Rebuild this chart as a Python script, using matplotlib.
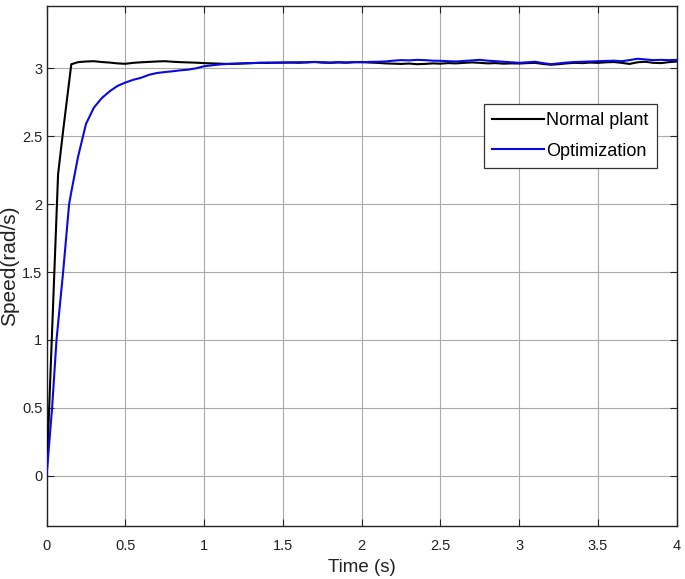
import matplotlib
matplotlib.use("Agg")
import matplotlib.pyplot as plt

plt.rcParams['font.family'] = ['Liberation Sans', 'DejaVu Sans']

# ---- data ----
t_steady = [0.2, 0.25, 0.3, 0.35, 0.4, 0.45, 0.5, 0.55, 0.6, 0.65, 0.7, 0.75, 0.8, 0.85, 0.9, 0.95,
            1.0, 1.05, 1.1, 1.15, 1.2, 1.25, 1.3, 1.35, 1.4, 1.45, 1.5, 1.55, 1.6, 1.65, 1.7, 1.75,
            1.8, 1.85, 1.9, 1.95, 2.0, 2.05, 2.1, 2.15, 2.2, 2.25, 2.3, 2.35, 2.4, 2.45, 2.5, 2.55,
            2.6, 2.65, 2.7, 2.75, 2.8, 2.85, 2.9, 2.95, 3.0, 3.05, 3.1, 3.15, 3.2, 3.25, 3.3, 3.35,
            3.4, 3.45, 3.5, 3.55, 3.6, 3.65, 3.7, 3.75, 3.8, 3.85, 3.9, 3.95, 4.0]

t_normal_rise = [0.0, 0.073, 0.105, 0.157]
normal_rise = [0.0, 2.22, 2.54, 3.03]
normal_steady = [3.045, 3.05, 3.052, 3.046, 3.042, 3.036, 3.033, 3.04, 3.044, 3.047, 3.05, 3.052,
                 3.048, 3.045, 3.043, 3.041, 3.038, 3.036, 3.034, 3.032, 3.033, 3.036, 3.038, 3.04,
                 3.039, 3.042, 3.041, 3.043, 3.04, 3.044, 3.046, 3.042, 3.04, 3.043, 3.041, 3.044,
                 3.046, 3.042, 3.04, 3.036, 3.034, 3.032, 3.035, 3.03, 3.032, 3.036, 3.034, 3.038,
                 3.036, 3.04, 3.043, 3.04, 3.036, 3.038, 3.034, 3.036, 3.035, 3.038, 3.04, 3.032,
                 3.026, 3.03, 3.036, 3.04, 3.038, 3.042, 3.04, 3.044, 3.046, 3.04, 3.032, 3.044,
                 3.048, 3.04, 3.038, 3.045, 3.05]

t_opt_rise = [0.0, 0.035, 0.063, 0.105, 0.143, 0.157]
opt_rise = [0.0, 0.5, 1.0, 1.5, 2.0, 2.09]
opt_steady = [2.35, 2.59, 2.71, 2.78, 2.83, 2.87, 2.895, 2.915, 2.93, 2.952, 2.965, 2.972,
              2.978, 2.985, 2.99, 3.0, 3.015, 3.022, 3.028, 3.032, 3.034, 3.036, 3.038, 3.04,
              3.042, 3.04, 3.043, 3.042, 3.045, 3.043, 3.047, 3.044, 3.042, 3.045, 3.043, 3.046,
              3.044, 3.047, 3.048, 3.05, 3.056, 3.06, 3.058, 3.062, 3.06, 3.056, 3.055, 3.052,
              3.05, 3.054, 3.058, 3.062, 3.056, 3.052, 3.048, 3.044, 3.04, 3.044, 3.048, 3.038,
              3.03, 3.036, 3.042, 3.046, 3.048, 3.05, 3.052, 3.054, 3.056, 3.052, 3.06, 3.07,
              3.065, 3.06, 3.062, 3.06, 3.062]

series_labels = ["Normal plant", "Optimization"]
x_ticks = [0, 0.5, 1, 1.5, 2, 2.5, 3, 3.5, 4]
x_ticklabels = ["0", "0.5", "1", "1.5", "2", "2.5", "3", "3.5", "4"]
y_ticks = [0, 0.5, 1, 1.5, 2, 2.5, 3]
y_ticklabels = ["0", "0.5", "1", "1.5", "2", "2.5", "3"]

# ---- figure ----
fig = plt.figure(figsize=(6.85, 5.79), dpi=100)
ax = fig.add_axes([0.068, 0.0915, 0.920, 0.8985])

ax.plot(t_normal_rise + t_steady, normal_rise + normal_steady, color='black', lw=1.5,
        label=series_labels[0], zorder=3)
ax.plot(t_opt_rise + t_steady, opt_rise + opt_steady, color='#0a0ae0', lw=1.5,
        label=series_labels[1], zorder=3)

ax.set_xlim(0, 4)
ax.set_ylim(-0.37, 3.46)
ax.set_xticks(x_ticks)
ax.set_xticklabels(x_ticklabels)
ax.set_yticks(y_ticks)
ax.set_yticklabels(y_ticklabels)
ax.tick_params(direction='in', length=5, width=0.8, labelsize=10.5, colors='#222222',
               top=True, right=True)
ax.tick_params(axis='x', pad=9)
ax.tick_params(axis='y', pad=3)
ax.grid(True, color='#aaaaaa', lw=0.8)
ax.set_axisbelow(True)
for s in ax.spines.values():
    s.set_linewidth(1.0)
    s.set_color('#222222')

ax.set_xlabel("Time (s)", fontsize=13.5, color='#222222', labelpad=5)
ax.set_ylabel("Speed(rad/s)", fontsize=15, color='#222222')
ax.yaxis.set_label_coords(-0.043, 0.5)

leg = ax.legend(loc='upper right', bbox_to_anchor=(0.968, 0.811), fontsize=13,
                fancybox=False, framealpha=1, edgecolor='#333333', borderaxespad=0,
                handlelength=2.9, handletextpad=0.1, borderpad=0.45, labelspacing=0.75)
leg.get_frame().set_linewidth(0.9)

fig.savefig("out.png", dpi=100)
